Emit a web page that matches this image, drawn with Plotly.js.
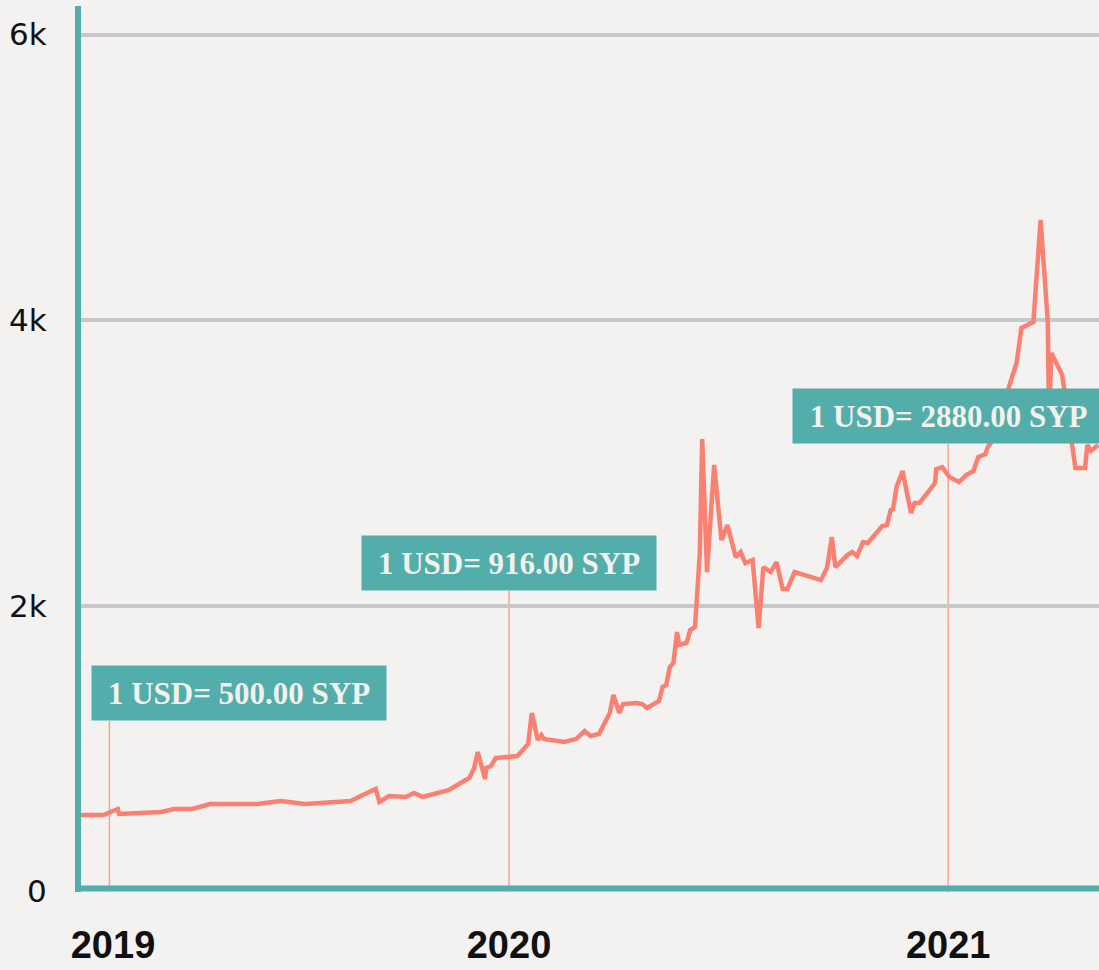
<!DOCTYPE html>
<html>
<head>
<meta charset="utf-8">
<script src="https://cdn.plot.ly/plotly-3.0.1.min.js"></script>
<style>
  html, body {margin:0; padding:0; background:#f3f2f0;}
  #graph {width:1099px; height:970px;}
</style>
</head>
<body>
<div id="graph"></div>
<script>
// Black market rate, SYP per 1 USD
var dates = [
  '2019-01-07','2019-01-28','2019-02-09','2019-02-10','2019-03-17','2019-03-28',
  '2019-04-12','2019-04-27','2019-06-05','2019-06-25','2019-07-15','2019-08-22',
  '2019-09-03','2019-09-12','2019-09-15','2019-09-23','2019-10-07','2019-10-14',
  '2019-10-21','2019-11-12','2019-11-23','2019-11-29','2019-12-03','2019-12-06',
  '2019-12-12','2019-12-13','2019-12-17','2019-12-21',
  '2020-01-08','2020-01-17','2020-01-20','2020-01-25','2020-01-28','2020-01-30',
  '2020-02-16','2020-02-26','2020-03-04','2020-03-09','2020-03-16','2020-03-25',
  '2020-03-28','2020-04-02','2020-04-05','2020-04-16','2020-04-21','2020-04-25',
  '2020-05-05','2020-05-08','2020-05-11','2020-05-14','2020-05-17','2020-05-20',
  '2020-05-22','2020-05-28','2020-05-31','2020-06-04','2020-06-08','2020-06-10',
  '2020-06-14','2020-06-20','2020-06-26','2020-07-01','2020-07-08','2020-07-12',
  '2020-07-16','2020-07-22','2020-07-27','2020-07-31','2020-08-06','2020-08-11',
  '2020-08-16','2020-08-20','2020-08-26','2020-09-01','2020-09-17','2020-09-22',
  '2020-09-26','2020-09-29','2020-10-02','2020-10-09','2020-10-13','2020-10-17',
  '2020-10-22','2020-10-26','2020-11-07','2020-11-11','2020-11-14','2020-11-16',
  '2020-11-19','2020-11-24','2020-12-01','2020-12-04','2020-12-08','2020-12-13',
  '2020-12-21','2020-12-22','2020-12-27',
  '2021-01-02','2021-01-10','2021-01-16','2021-01-22','2021-01-26','2021-02-01',
  '2021-02-03','2021-02-06','2021-02-27','2021-03-03','2021-03-13','2021-03-19',
  '2021-03-25','2021-03-26','2021-03-28','2021-04-06','2021-04-17','2021-04-25',
  '2021-04-27','2021-04-30','2021-05-06'
]
var rates = [
  535,535,577,542,556,577,
  577,612,612,633,612,633,
  682,717,626,668,661,689,
  661,710,766,794,864,976,
  787,864,878,934,
  948,1032,1249,1060,1095,1067,
  1046,1067,1123,1088,1102,1249,
  1375,1249,1312,1319,1312,1284,
  1333,1431,1445,1571,1599,1816,
  1725,1739,1830,1851,2369,3168,
  2236,2986,2460,2565,2341,2376,
  2299,2320,1844,2271,2236,2306,
  2117,2117,2236,2222,2180,2264,
  2481,2271,2299,2355,2376,2348,
  2446,2439,2558,2565,2670,2677,
  2832,2944,2649,2719,2719,2775,
  2859,2957,2971,
  2901,2866,2915,2943,3041,3062,
  3111,3146,3700,3945,3987,4701,
  3987,3300,3770,3616,2965,2965,
  3126,3084,3126
]

// callouts
var noteDates = ['2019-02-02','2020-01-01','2021-01-01']
var noteRates = [500, 916, 2880]

// ticks
var xTickVals = ['2019-02-05','2020-01-01','2021-01-01']
var xTickText = ['2019','2020','2021']
var yTickVals = [0, 2000, 4000, 6000]
var yTickText = ['0','2k','4k','6k']

var teal = '#52adab'
var salmon = '#fa8072'

// box placement (paper y of box bottom, x shift in px)
var boxBottom = [0.193, 0.3397, 0.5056]
var boxShift = [130, 0, 0]

var shapes = [{
  type:'rect', xref:'paper', x0:0, x1:1,
  yref:'y', ysizemode:'pixel', yanchor:0, y0:0, y1:6,
  fillcolor:teal, line:{width:0}, layer:'above'
}]
var annotations = []

for (var i=0; i<noteDates.length; i++) {
  var label = '1 USD= ' + noteRates[i].toFixed(2) + ' SYP'
  shapes.push({
    type:'line', xref:'x', x0:noteDates[i], x1:noteDates[i],
    yref:'paper', y0:0, y1:boxBottom[i],
    line:{color:'rgba(250,128,114,0.7)', width:1.5},
    layer:'between'
  })
  annotations.push({
    text:label, xref:'x', x:noteDates[i], yref:'paper', y:boxBottom[i],
    xanchor:'center', yanchor:'bottom', xshift:boxShift[i],
    showarrow:false, bgcolor:teal, borderpad:0,
    width:17.3*label.length, height:54, align:'center', valign:'middle',
    font:{family:'Liberation Serif', size:31, weight:700, color:'#f2f1ec'}
  })
}

var trace_rate = {
  x:dates,
  y:rates,
  type:'scatter',
  mode:'lines',
  line:{color:salmon, width:4.5},
  hoverinfo:'skip'
}

var layout = {
  width:1099,
  height:970,
  showlegend:false,
  margin:{l:81, r:0, t:6, b:78, pad:0},
  paper_bgcolor:'#f3f2f0',
  plot_bgcolor:'#f3f2f0',
  xaxis:{
    type:'date',
    range:['2019-01-09 08:00','2021-05-06 16:00'],
    tickvals:xTickVals,
    ticktext:xTickText,
    ticks:'',
    ticklabelstandoff:27,
    showgrid:false,
    zeroline:false,
    showline:false,
    tickfont:{family:'Liberation Sans', size:38, weight:700, color:'#111'}
  },
  yaxis:{
    range:[-4.2, 6199.6],
    tickvals:yTickVals,
    ticktext:yTickText,
    ticks:'',
    ticklabelstandoff:22,
    showgrid:true,
    gridcolor:'#c8c8c8',
    gridwidth:4,
    zeroline:false,
    showline:true,
    linecolor:teal,
    linewidth:6,
    tickfont:{family:'DejaVu Sans', size:31, color:'#111'}
  },
  shapes:shapes,
  annotations:annotations
}

Plotly.newPlot('graph', [trace_rate], layout, {displayModeBar:false, staticPlot:true})
</script>
</body>
</html>
